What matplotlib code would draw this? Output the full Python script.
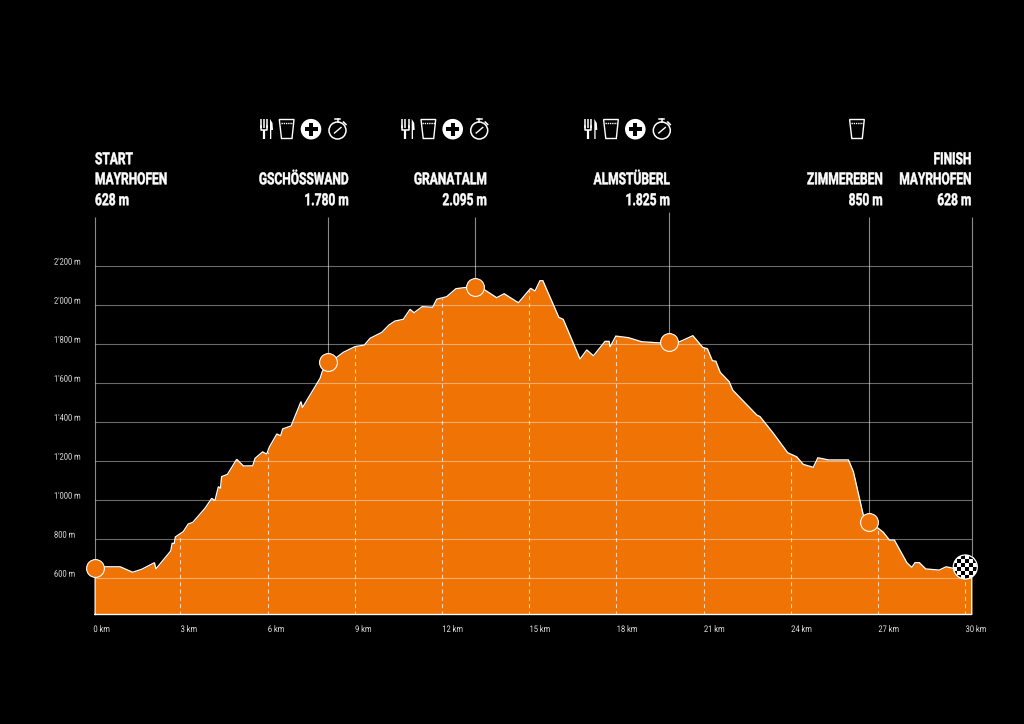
#!/usr/bin/env python
"""Trail elevation profile, Mayrhofen loop, drawn on black."""

import matplotlib

matplotlib.use("Agg")
import matplotlib.pyplot as plt
from matplotlib.patches import Circle, Polygon, Rectangle
from matplotlib.patheffects import AbstractPathEffect
from matplotlib.text import Text
from matplotlib.transforms import Affine2D, Bbox, offset_copy
import numpy as np

plt.rcParams["font.family"] = ["Roboto", "DejaVu Sans"]

ORANGE = "#EF7305"
W, H = 1024, 724

dist_km = [
    0.07, 0.93, 1.36, 1.67, 2.11, 2.16, 2.67, 2.72, 2.79, 2.83, 3.10, 3.27, 3.43, 3.85, 4.08,
    4.19, 4.31, 4.38, 4.42, 4.62, 4.94, 5.17, 5.49, 5.57, 5.83, 5.97, 6.06, 6.32, 6.45, 6.52,
    6.81, 7.15, 7.20, 7.81, 7.88, 8.09, 8.38, 8.61, 9.01, 9.33, 9.53, 9.93, 10.18, 10.38, 10.67,
    10.90, 11.04, 11.32, 11.68, 11.82, 12.16, 12.48, 12.85, 13.14, 13.48, 13.88, 14.14, 14.63,
    15.05, 15.20, 15.37, 15.47, 16.02, 16.17, 16.75, 16.98, 17.21, 17.61, 17.75, 17.78, 17.98,
    18.41, 18.87, 19.50, 19.81, 20.13, 20.63, 20.97, 21.13, 21.30, 21.42, 21.57, 21.88, 22.00,
    22.83, 22.94, 23.40, 23.89, 24.20, 24.43, 24.77, 24.93, 25.29, 25.98, 26.15, 26.49, 26.70,
    27.01, 27.18, 27.39, 27.56, 27.99, 28.16, 28.27, 28.42, 28.64, 29.10, 29.34, 29.59, 30.00,
    30.22,
]
elev_m = [
    656, 656, 628, 643, 677, 645, 737, 776, 776, 809, 836, 875, 884, 956, 1007,
    995, 1067, 1058, 1118, 1130, 1207, 1173, 1174, 1212, 1245, 1234, 1269, 1337, 1328, 1363,
    1378, 1503, 1472, 1623, 1656, 1706, 1730, 1756, 1785, 1793, 1828, 1858, 1896, 1916, 1925,
    1976, 1959, 1990, 1987, 2028, 2041, 2082, 2089, 2092, 2075, 2036, 2056, 2010,
    2084, 2070, 2123, 2123, 1935, 1925, 1721, 1768, 1738, 1812, 1812, 1783, 1839,
    1831, 1810, 1804, 1809, 1807, 1841, 1781, 1774, 1713, 1710, 1653, 1605, 1562,
    1434, 1426, 1340, 1241, 1220, 1181, 1166, 1215, 1204, 1204, 1144, 922, 884,
    853, 833, 793, 793, 677, 653, 677, 677, 645, 639, 656, 648, 655,
    640,
]

y_ticks = [600, 800, 1000, 1200, 1400, 1600, 1800, 2000, 2200]
y_labels = ["600 m", "800 m", "1'000 m", "1'200 m", "1'400 m", "1'600 m", "1'800 m", "2'000 m", "2'200 m"]
x_ticks = [0, 3, 6, 9, 12, 15, 18, 21, 24, 27, 30]

stop_km = [0.07, 8.09, 13.14, 19.81, 26.70]
stop_m = [650, 1706, 2092, 1809, 884]
guide_km = [0.07, 8.09, 13.14, 19.81, 26.70, 30.22]
guide_from_m = [650, 1706, 2092, 1809, 884, 640]
guide_top_m = [2451, 2451, 2451, 2477, 2451, 2451]
finish_km, finish_m = 30.00, 655

# (x px, alignment, lines)
labels = [
    (95, "left", ["START", "MAYRHOFEN", "628 m"]),
    (348.5, "right", ["GSCHÖSSWAND", "1.780 m"]),
    (486.7, "right", ["GRANATALM", "2.095 m"]),
    (669.7, "right", ["ALMSTÜBERL", "1.825 m"]),
    (882.5, "right", ["ZIMMEREBEN", "850 m"]),
    (971.3, "right", ["FINISH", "MAYRHOFEN", "628 m"]),
]
icon_sets = [(0, True), (141.7, True), (324.3, True), (570.3, False)]


# ── condensed text ──────────────────────────────────────────────────────
# no condensed family is installed, so squeeze the glyphs at draw time

class _Squeeze(AbstractPathEffect):
    def __init__(self, text, stroke):
        super().__init__()
        self.text = text
        self.stroke = stroke

    def draw_path(self, renderer, gc, tpath, affine, rgbFace=None):
        x0 = self.text.anchor_px()
        squeeze = Affine2D().translate(-x0, 0).scale(self.text.sx, 1).translate(x0, 0)
        if self.stroke:
            gc.set_linewidth(self.stroke)
            gc.set_foreground(rgbFace)
        renderer.draw_path(gc, tpath, affine + squeeze, rgbFace)


class CondensedText(Text):
    def __init__(self, *args, sx=0.72, stroke=0, **kwargs):
        super().__init__(*args, clip_on=False, **kwargs)
        self.sx = sx
        self.set_path_effects([_Squeeze(self, stroke)])

    def anchor_px(self):
        bb = super().get_window_extent()
        return bb.x0 if self.get_ha() == "left" else bb.x1

    def get_window_extent(self, renderer=None, dpi=None):
        bb = super().get_window_extent(renderer, dpi)
        x0 = bb.x0 if self.get_ha() == "left" else bb.x1
        return Bbox([[x0 + (bb.x0 - x0) * self.sx, bb.y0], [x0 + (bb.x1 - x0) * self.sx, bb.y1]])


# ── icons ───────────────────────────────────────────────────────────────

def _cutlery(ov, dx):
    for x in (260.5, 263.7, 267.0):
        ov.plot([x + dx, x + dx], [119, 128], color="white", lw=1.1, solid_capstyle="butt")
    ov.plot([260.5 + dx, 260.5 + dx, 267 + dx, 267 + dx], [126, 130, 130, 126], color="white", lw=1.1)
    ov.plot([263.7 + dx, 263.7 + dx], [130, 139], color="white", lw=1.6, solid_capstyle="butt")
    blade = [(270 + dx, 119), (272.5 + dx, 123), (273 + dx, 130), (271.3 + dx, 130), (271.3 + dx, 139), (270 + dx, 139)]
    ov.add_patch(Polygon(blade, closed=True, fc="white", ec="none"))


def _cup(ov, dx):
    shape = [(279.3 + dx, 119.5), (294 + dx, 119.5), (292 + dx, 138.5), (281.5 + dx, 138.5)]
    ov.add_patch(Polygon(shape, closed=True, fc="none", ec="white", lw=1.0))
    ov.plot([280.5 + dx, 293 + dx], [122.5, 122.5], color="white", lw=1.0, ls=(0, (1, 0.6)))


def _first_aid(ov, dx):
    cx, cy = 311 + dx, 129.2
    ov.add_patch(Circle((cx, cy), 10.3, fc="white", ec="none"))
    ov.add_patch(Rectangle((cx - 6.5, cy - 2.2), 13, 4.4, fc="black", ec="none"))
    ov.add_patch(Rectangle((cx - 2.2, cy - 6.5), 4.4, 13, fc="black", ec="none"))


def _stopwatch(ov, dx):
    cx, cy = 337.5 + dx, 130.5
    ov.add_patch(Circle((cx, cy), 8.5, fc="none", ec="white", lw=1.1))
    ov.plot([cx - 2.5, cx + 2.5], [118.5, 118.5], color="white", lw=1.1)
    ov.plot([cx, cx], [118.5, 122], color="white", lw=1.1)
    ov.plot([cx + 6, cx + 8.5], [122, 124.5], color="white", lw=1.1)
    ov.plot([cx - 3, cx + 3.5], [133, 127.5], color="white", lw=1.0)


# ── chart ───────────────────────────────────────────────────────────────

fig = plt.figure(figsize=(W / 100, H / 100), dpi=100, facecolor="black")
ax = fig.add_axes([94.5 / W, (H - 614.5) / H, 877.2 / W, 397.8 / H], facecolor="black")
ax.set_xlim(0.048, 30.22)
ax.set_ylim(411.3, 2451.3)
ax.axis("off")

base = ax.get_ylim()[0]
ax.fill_between(dist_km, elev_m, base, color=ORANGE, lw=0, zorder=2)

ax.hlines(y_ticks, 0.07, 30.22, color="white", lw=0.8, alpha=0.42, zorder=3)
ax.vlines(guide_km, guide_from_m, guide_top_m, color="white", lw=0.8, alpha=0.55, zorder=1, clip_on=False)

tops = np.interp(x_ticks[1:], dist_km, elev_m)
ax.vlines(x_ticks[1:], base, tops, color="white", lw=0.8, alpha=0.7, linestyles=(0, (3.6, 3.0)), zorder=3)

outline_x = [dist_km[0]] + dist_km + [dist_km[-1], dist_km[0]]
outline_y = [base] + elev_m + [base, base]
ax.plot(outline_x, outline_y, color="white", lw=0.95, zorder=4, clip_on=False, solid_joinstyle="miter")

ax.scatter(stop_km, stop_m, s=165, c=ORANGE, edgecolors="white", linewidths=0.8, zorder=5, clip_on=False)

y_trans = offset_copy(ax.get_yaxis_transform(), fig, x=-40.5, y=3.5, units="dots")
for v, lab in zip(y_ticks, y_labels):
    ax.add_artist(CondensedText(0, v, lab, sx=0.82, color="#e4e4e4", fontsize=6.6, ha="left", va="center",
                                transform=y_trans))
x_trans = offset_copy(ax.get_xaxis_transform(), fig, x=0.3, y=-15, units="dots")
for k in x_ticks:
    ax.add_artist(CondensedText(k, 0, f"{k} km", sx=0.82, color="#e4e4e4", fontsize=6.6, ha="left", va="center",
                                transform=x_trans))

# pixel overlay for the header block and icons
ov = fig.add_axes([0, 0, 1, 1], facecolor="none", zorder=3)
ov.set_xlim(0, W)
ov.set_ylim(H, 0)
ov.axis("off")

row_y = [205.2, 184.3, 164.2]
for x, ha, lines in labels:
    for y, line in zip(row_y, reversed(lines)):
        ov.add_artist(CondensedText(x, y, line, stroke=0.35, color="white", fontsize=12, fontweight="bold",
                                    ha=ha, va="baseline", transform=ov.transData))

for dx, full in icon_sets:
    _cup(ov, dx)
    if full:
        _cutlery(ov, dx)
        _first_aid(ov, dx)
        _stopwatch(ov, dx)

# chequered finish marker
fx, fy = ax.transData.transform((finish_km, finish_m))
fy = H - fy
cells = np.indices((6, 6)).sum(axis=0) % 2
edges_x = fx - 12 + np.arange(7) * 4
edges_y = fy - 12 + np.arange(7) * 4
mesh = ov.pcolormesh(edges_x, edges_y, cells, cmap="gray", vmin=0, vmax=1, zorder=6)
mesh.set_clip_path(Circle((fx, fy), 12, transform=ov.transData))
ov.add_patch(Circle((fx, fy), 12, fc="none", ec="white", lw=0.9, zorder=7))

fig.savefig("out.png", dpi=100, facecolor="black")
